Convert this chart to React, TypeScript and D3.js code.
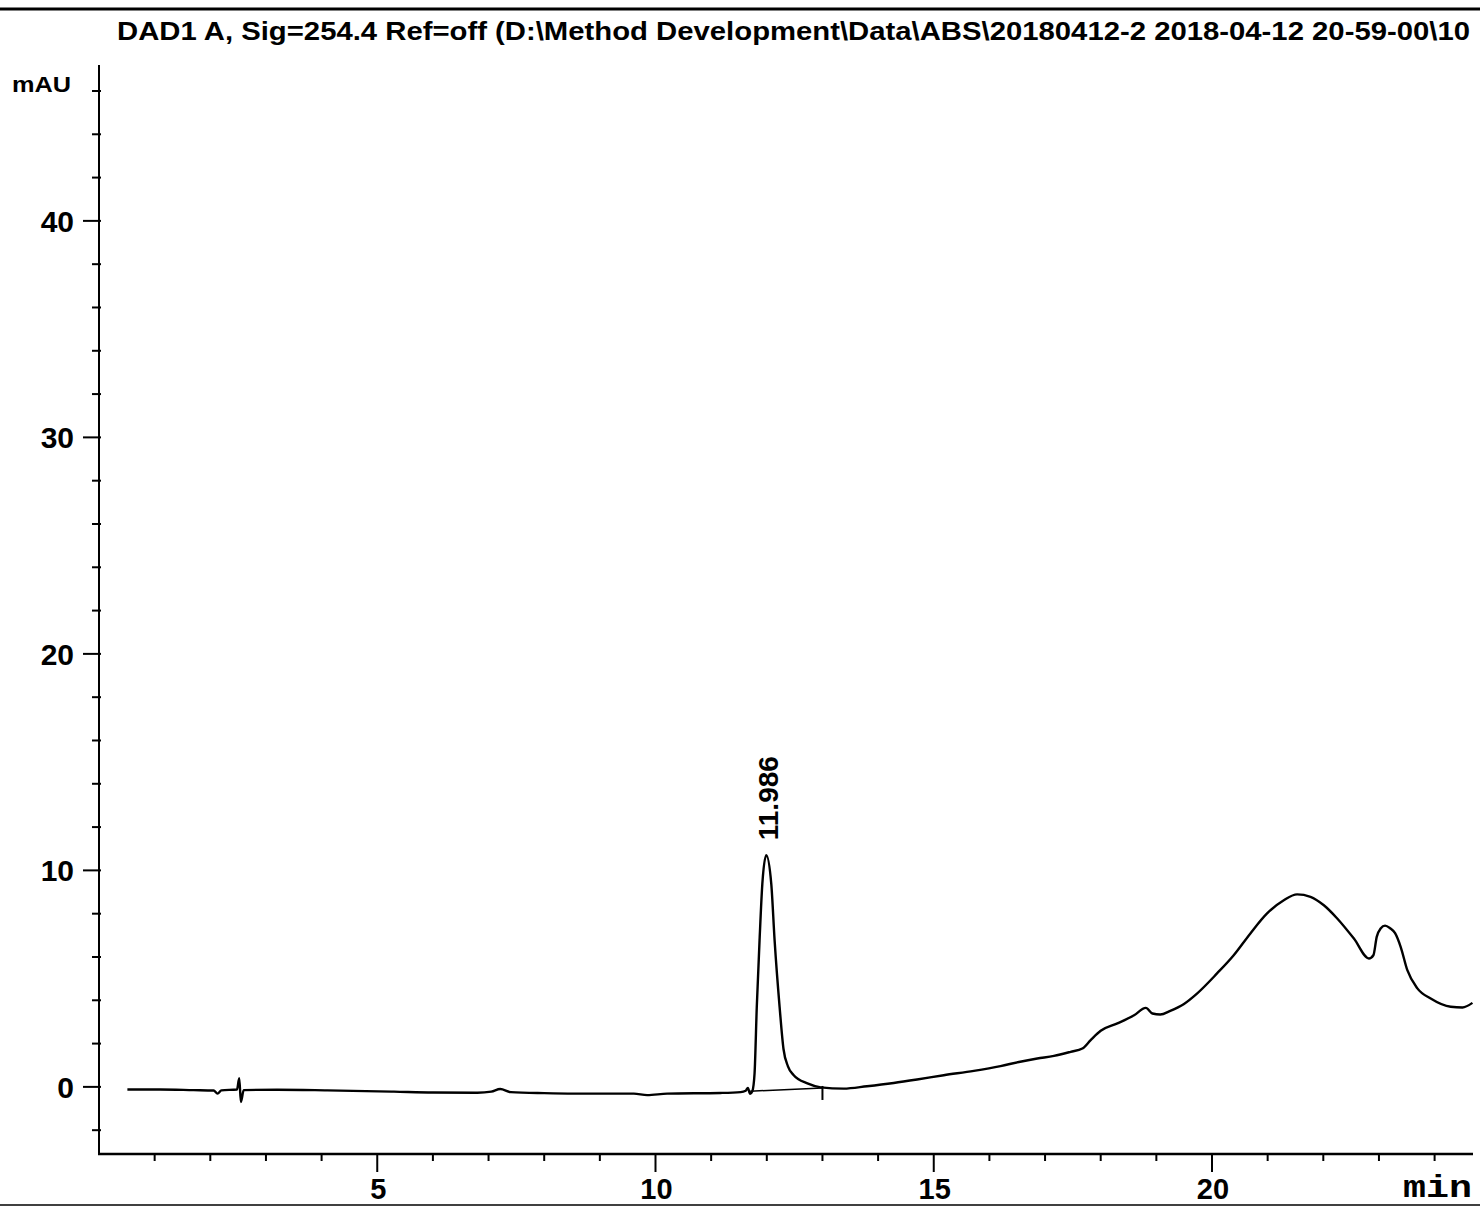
import * as d3 from 'd3';

// chromatogram trace (time in min, signal in mAU)
const times = [
  0.51, 1.1, 1.7, 2.06, 2.13, 2.2, 2.48, 2.52, 2.55, 2.6, 3.2, 4.1, 5.3, 6.0, 6.8, 7.05, 7.21, 7.4,
  8.0, 8.53, 9.61, 9.85, 10.21, 11.17, 11.53, 11.62, 11.66, 11.7, 11.74, 11.78, 11.82, 11.87, 11.92,
  11.99, 12.08, 12.14, 12.23, 12.3, 12.38, 12.48, 12.73, 12.97, 13.38, 13.8, 14.28, 14.7, 15.18,
  15.72, 16.2, 16.53, 16.86, 17.16, 17.46, 17.67, 17.82, 18.0, 18.3, 18.6, 18.81, 18.93, 19.07,
  19.25, 19.49, 19.73, 20.09, 20.39, 20.69, 20.99, 21.29, 21.53, 21.77, 22.01, 22.25, 22.55, 22.82,
  22.9, 22.96, 23.03, 23.11, 23.2, 23.29, 23.39, 23.51, 23.69, 23.93, 24.29, 24.5, 24.68,
];
const signal = [
  -0.12, -0.12, -0.15, -0.17, -0.31, -0.16, -0.12, 0.4, -0.7, -0.15, -0.13, -0.16, -0.22, -0.26,
  -0.27, -0.22, -0.1, -0.24, -0.29, -0.31, -0.31, -0.38, -0.31, -0.28, -0.24, -0.18, -0.05, -0.32,
  -0.2, 0.62, 3.7, 6.78, 9.39, 10.7, 9.39, 6.78, 3.7, 1.75, 0.95, 0.55, 0.16, -0.02, -0.08, 0.03,
  0.18, 0.34, 0.54, 0.74, 0.96, 1.15, 1.31, 1.43, 1.62, 1.77, 2.16, 2.59, 2.93, 3.31, 3.65, 3.39,
  3.34, 3.51, 3.82, 4.31, 5.24, 6.08, 7.09, 8.01, 8.62, 8.89, 8.78, 8.39, 7.78, 6.85, 5.93, 6.08,
  6.93, 7.32, 7.45, 7.33, 7.1, 6.47, 5.39, 4.55, 4.08, 3.7, 3.67, 3.88,
];

// integrated peak: retention time label, apex height, baseline start/end
const peakTimes = [11.986];
const peakApex = [10.7];
const baselineTimes = [11.7, 13.0];
const baselineValues = [-0.2, -0.05];

const xMajorTicks = [5, 10, 15, 20];
const xMinorTicks = d3.range(1, 25);
const yMajorTicks = [0, 10, 20, 30, 40];
const yMinorTicks = d3.range(-2, 47, 2);

const title =
  'DAD1 A, Sig=254.4 Ref=off (D:\\Method Development\\Data\\ABS\\20180412-2 2018-04-12 20-59-00\\10';

const W = 1480;
const H = 1212;
const FONT = '"Liberation Sans", Arial, sans-serif';

export default function App() {
  const x = d3.scaleLinear().domain([0, 24.69]).range([99, 1473]);
  const y = d3.scaleLinear().domain([-3.1, 47.2]).range([1154, 65]);

  const points = times.map((t, i) => [t, signal[i]] as [number, number]);
  const line = d3
    .line<[number, number]>()
    .x((d) => x(d[0]))
    .y((d) => y(d[1]))
    .curve(d3.curveMonotoneX);

  const left = x.range()[0];
  const right = x.range()[1];
  const bottom = y.range()[0];
  const top = y.range()[1];

  return (
    <svg
      width={W}
      height={H}
      style={{ position: 'absolute', left: 0, top: 0, background: '#fff', display: 'block' }}
    >
      <rect width={W} height={H} fill="#fff" />
      {/* page frame lines */}
      <line x1={0} x2={W} y1={9} y2={9} stroke="#000" strokeWidth={3} />
      <line x1={0} x2={W} y1={1205} y2={1205} stroke="#000" strokeWidth={1.5} />

      <text
        x={117}
        y={40}
        fontFamily={FONT}
        fontWeight="bold"
        fontSize={25}
        textLength={1353}
        lengthAdjust="spacingAndGlyphs"
      >
        {title}
      </text>

      <text
        x={12}
        y={92}
        fontFamily={FONT}
        fontWeight="bold"
        fontSize={22}
        textLength={59}
        lengthAdjust="spacingAndGlyphs"
      >
        mAU
      </text>

      {/* y axis */}
      <line x1={left} x2={left} y1={top} y2={bottom} stroke="#000" strokeWidth={2} />
      {yMinorTicks.map((v) => (
        <line
          key={`ym${v}`}
          x1={left - (yMajorTicks.includes(v) ? 16 : 7)}
          x2={left + 2}
          y1={y(v)}
          y2={y(v)}
          stroke="#000"
          strokeWidth={2}
        />
      ))}
      {yMajorTicks.map((v) => (
        <text
          key={`yl${v}`}
          x={74}
          y={y(v) + 11}
          textAnchor="end"
          fontFamily={FONT}
          fontWeight="bold"
          fontSize={30}
        >
          {v}
        </text>
      ))}

      {/* x axis */}
      <line x1={left - 1} x2={right} y1={bottom} y2={bottom} stroke="#000" strokeWidth={2.5} />
      {xMinorTicks.map((v) => (
        <line
          key={`xm${v}`}
          x1={x(v)}
          x2={x(v)}
          y1={bottom - 1}
          y2={bottom + (xMajorTicks.includes(v) ? 18 : 7)}
          stroke="#000"
          strokeWidth={2}
        />
      ))}
      {xMajorTicks.map((v) => (
        <text
          key={`xl${v}`}
          x={x(v) + 1}
          y={1199}
          textAnchor="middle"
          fontFamily={FONT}
          fontWeight="bold"
          fontSize={29}
        >
          {v}
        </text>
      ))}
      <text
        x={1403}
        y={1197}
        fontFamily='"Liberation Mono", "DejaVu Sans Mono", monospace'
        fontWeight="bold"
        fontSize={32}
        textLength={69}
        lengthAdjust="spacingAndGlyphs"
      >
        min
      </text>

      {/* integration baseline and end marker */}
      <line
        x1={x(baselineTimes[0])}
        x2={x(baselineTimes[1])}
        y1={y(baselineValues[0])}
        y2={y(baselineValues[1])}
        stroke="#000"
        strokeWidth={1.5}
      />
      <line
        x1={x(baselineTimes[1])}
        x2={x(baselineTimes[1])}
        y1={y(baselineValues[1]) - 2}
        y2={y(baselineValues[1]) + 12}
        stroke="#000"
        strokeWidth={2}
      />

      {/* signal trace */}
      <path d={line(points) ?? ''} fill="none" stroke="#000" strokeWidth={2.4} strokeLinejoin="round" />

      {/* retention time labels */}
      {peakTimes.map((rt, i) => (
        <text
          key={`pk${i}`}
          transform={`translate(${x(rt) + 12},${y(peakApex[i]) - 15}) rotate(-90)`}
          fontFamily={FONT}
          fontWeight="bold"
          fontSize={28}
        >
          {rt.toFixed(3)}
        </text>
      ))}
    </svg>
  );
}
